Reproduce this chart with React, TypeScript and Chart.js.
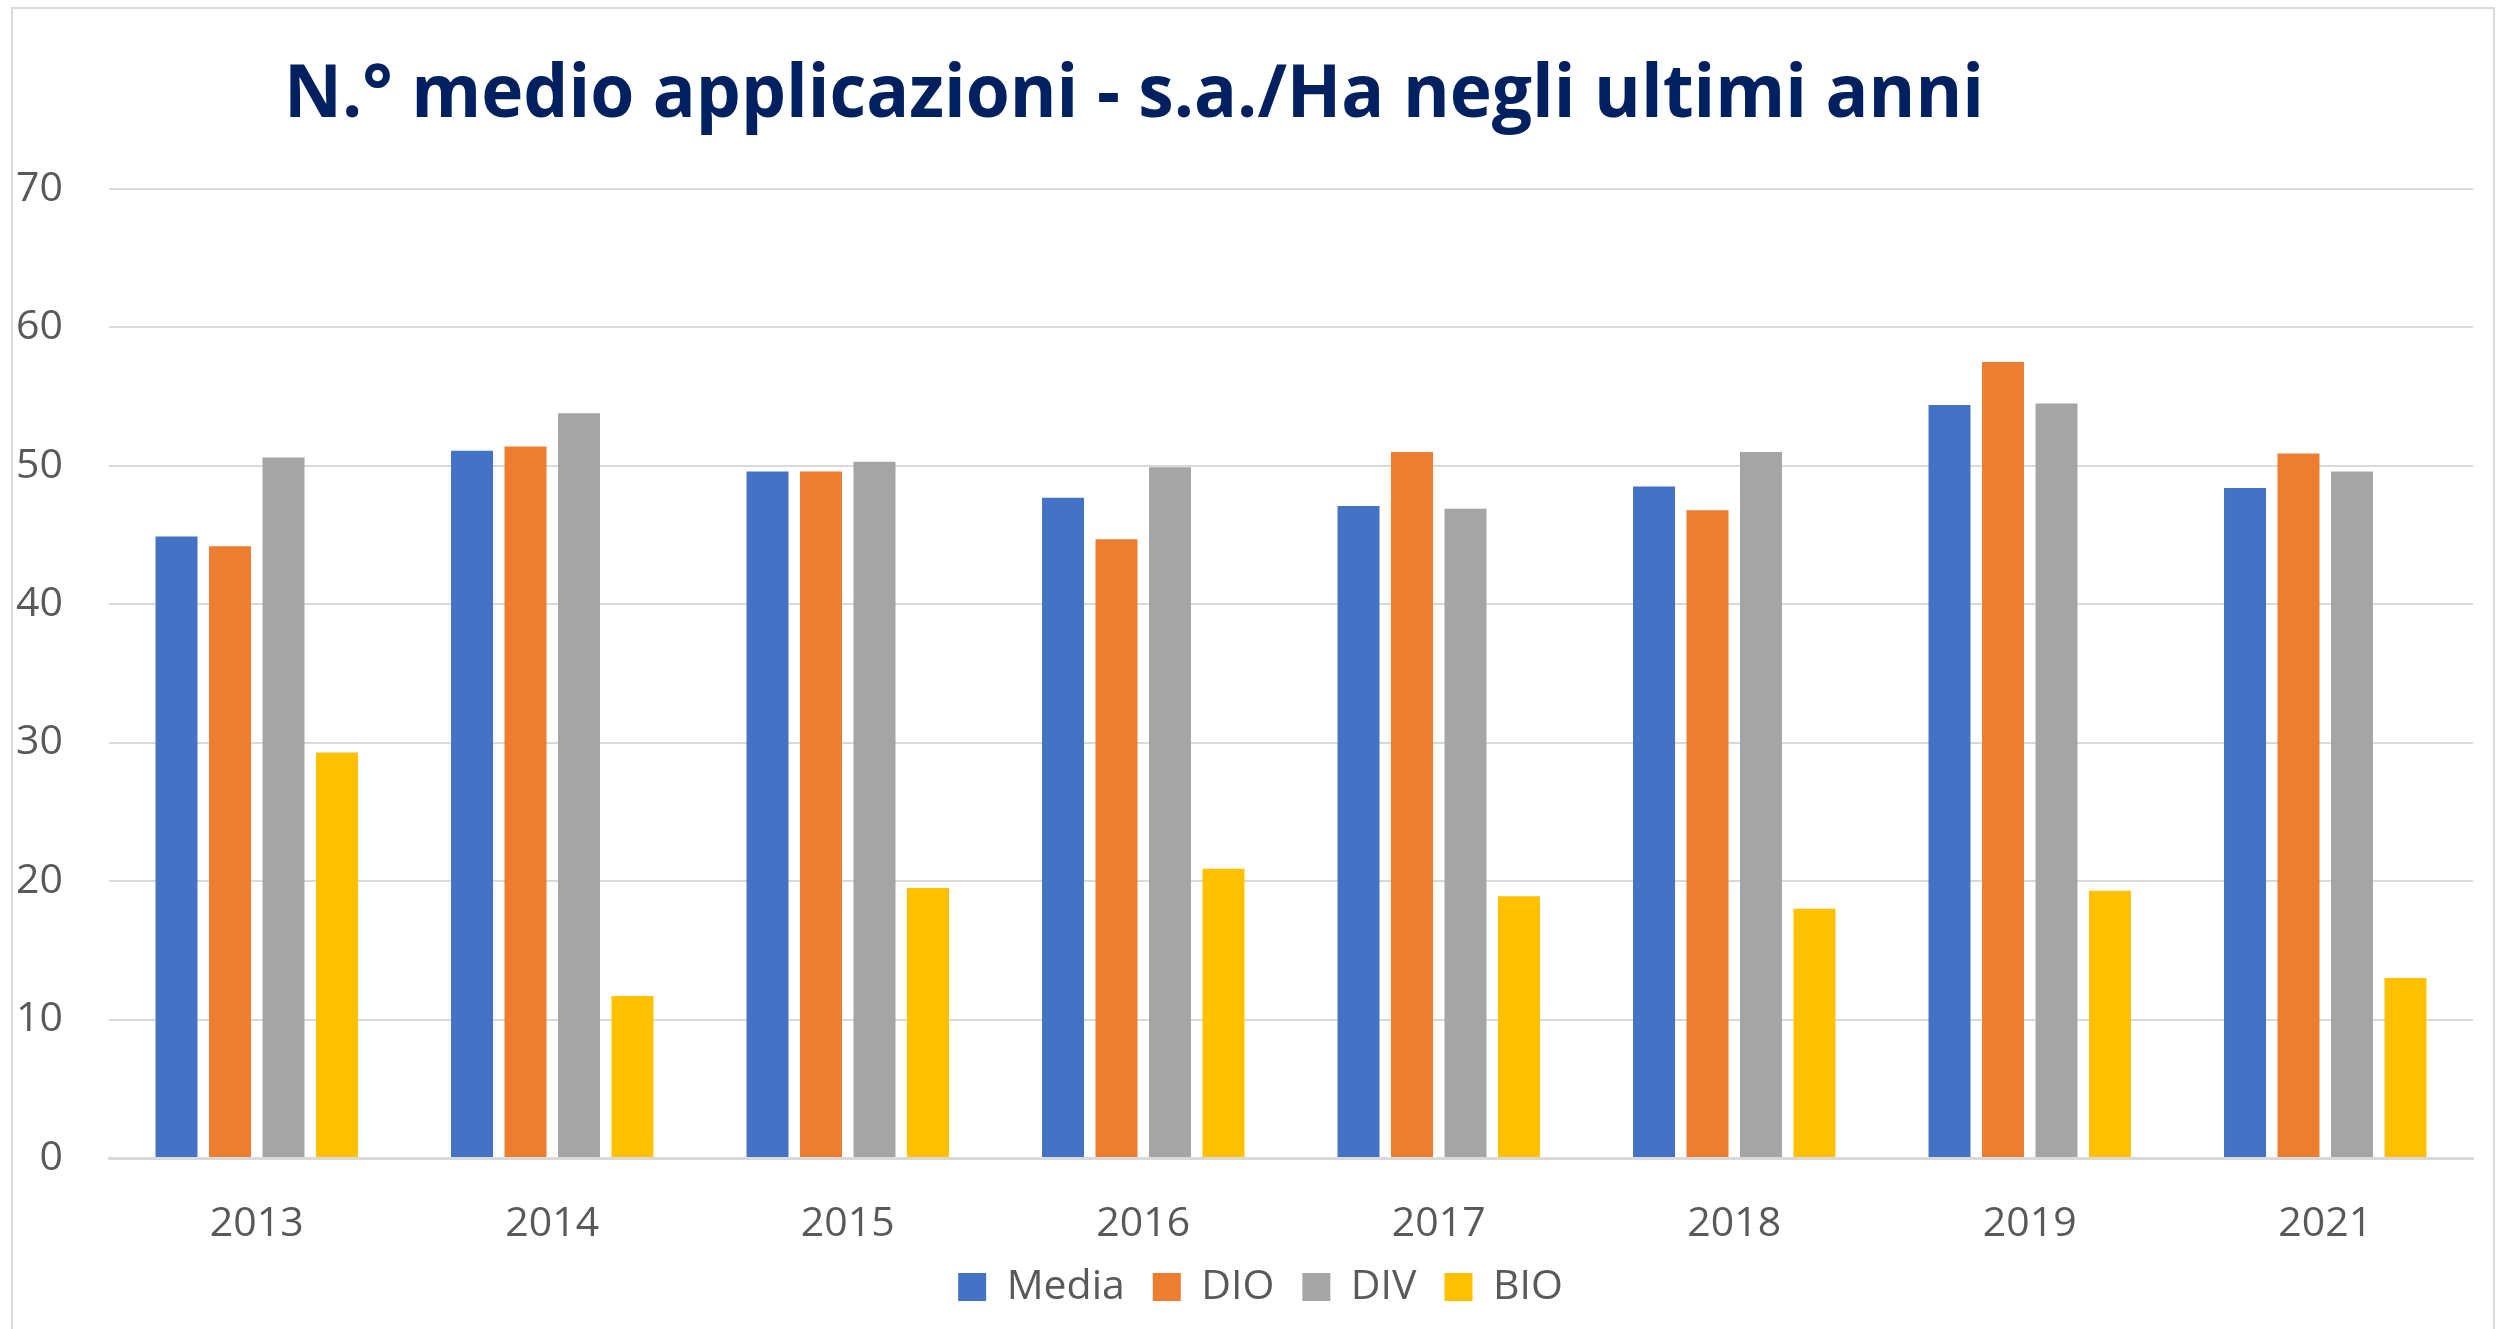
import React, { useEffect, useRef } from "react";
import { Chart, registerables } from "chart.js";

Chart.register(...registerables);

const years = ["2013", "2014", "2015", "2016", "2017", "2018", "2019", "2021"];
const media = [44.9, 51.1, 49.6, 47.7, 47.1, 48.5, 54.4, 48.4];
const dio = [44.2, 51.4, 49.6, 44.7, 51.0, 46.8, 57.5, 50.9];
const div = [50.6, 53.8, 50.3, 49.9, 46.9, 51.0, 54.5, 49.6];
const bio = [29.3, 11.7, 19.5, 20.9, 18.9, 18.0, 19.3, 13.0];
const seriesNames = ["Media", "DIO", "DIV", "BIO"];
const seriesColors = ["#4472C4", "#ED7D31", "#A5A5A5", "#FFC000"];
const titleText = "N.° medio applicazioni - s.a./Ha negli ultimi anni";

const W = 2508;
const H = 1329;

const framePlugin = {
  id: "frame",
  afterLayout(chart: any) {
    const l = chart.legend;
    if (l) {
      l.left += 24;
      l.right += 24;
    }
  },
  beforeDraw(chart: any) {
    const ctx = chart.ctx;
    ctx.save();
    ctx.fillStyle = "#ffffff";
    ctx.fillRect(0, 0, chart.width, chart.height);
    ctx.strokeStyle = "#d9d9d9";
    ctx.lineWidth = 2;
    ctx.strokeRect(12, 8, 2482, 1340);
    ctx.restore();
  },
  afterDraw(chart: any) {
    const ctx = chart.ctx;
    ctx.save();
    ctx.font = "bold 74px 'Open Sans'";
    ctx.fillStyle = "#002060";
    ctx.textBaseline = "alphabetic";
    ctx.textAlign = "left";
    const w = ctx.measureText(titleText).width;
    const sx = 1700 / w;
    ctx.translate(284, 117);
    ctx.scale(sx, 1);
    ctx.fillText(titleText, 0, 0);
    ctx.restore();
  },
};

export default function App() {
  const ref = useRef<HTMLCanvasElement | null>(null);
  useEffect(() => {
    if (!ref.current) return;
    const datasets = [media, dio, div, bio].map((d, i) => ({
      label: seriesNames[i],
      data: d,
      backgroundColor: seriesColors[i],
      borderWidth: 0,
      categoryPercentage: 0.724,
      barPercentage: 0.785,
    }));
    const chart = new Chart(ref.current, {
      type: "bar",
      data: { labels: years, datasets },
      options: {
        animation: false,
        responsive: false,
        maintainAspectRatio: false,
        layout: { padding: { top: 189, left: 0, right: 35, bottom: 11.5 } },
        plugins: {
          title: { display: false },
          tooltip: { enabled: false },
          legend: {
            display: true,
            position: "bottom",
            labels: {
              boxWidth: 28,
              boxHeight: 28,
              padding: 28,
              color: "#595959",
              font: { family: "'Open Sans'", size: 41 },
            },
          },
        },
        scales: {
          x: {
            grid: { display: false, drawTicks: false },
            border: { display: true, color: "#d9d9d9", width: 3 },
            ticks: {
              color: "#595959",
              font: { family: "'Open Sans'", size: 41 },
              padding: 42,
              maxRotation: 0,
            },
            afterFit: (s: any) => {
              s.height = 80.5;
            },
          },
          y: {
            min: 0,
            max: 70,
            grid: { color: "#d9d9d9", lineWidth: 2, drawTicks: false },
            border: { display: false },
            ticks: {
              stepSize: 10,
              color: "#595959",
              font: { family: "'Open Sans'", size: 41 },
              padding: 46,
            },
            afterFit: (s: any) => {
              s.width = 109;
            },
          },
        },
      },
      plugins: [framePlugin],
    });
    return () => chart.destroy();
  }, []);
  return (
    <div style={{ position: "absolute", left: 0, top: 0, width: W, height: H }}>
      <canvas ref={ref} width={W} height={H} style={{ width: W, height: H, display: "block" }} />
    </div>
  );
}
